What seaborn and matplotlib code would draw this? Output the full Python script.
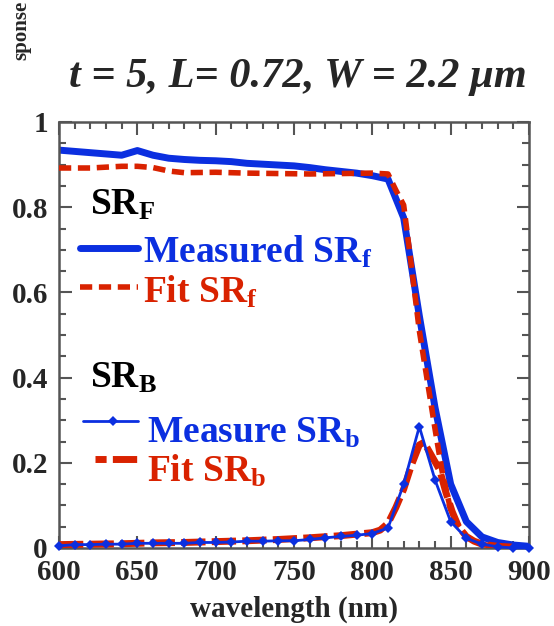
import numpy as np
import pandas as pd
import matplotlib
matplotlib.use("Agg")
import matplotlib.pyplot as plt
from matplotlib.lines import Line2D
from matplotlib.ticker import MultipleLocator, FuncFormatter
import seaborn as sns

# ---- data -------------------------------------------------------------
wl_meas = [600, 610, 620, 630, 640, 650, 660, 670, 680, 690, 700, 710, 720,
           730, 740, 750, 760, 770, 780, 790, 800, 810, 820, 830, 840, 850,
           860, 870, 880, 890, 900]
sr_f_meas = [0.934, 0.931, 0.928, 0.925, 0.922, 0.933, 0.922, 0.915, 0.912,
             0.910, 0.909, 0.907, 0.903, 0.901, 0.899, 0.897, 0.893, 0.888,
             0.884, 0.880, 0.874, 0.866, 0.775, 0.545, 0.330, 0.150, 0.062,
             0.026, 0.013, 0.007, 0.004]
sr_b_meas = [0.005, 0.008, 0.008, 0.009, 0.009, 0.011, 0.011, 0.011, 0.011,
             0.013, 0.013, 0.014, 0.016, 0.016, 0.017, 0.017, 0.020, 0.024,
             0.027, 0.030, 0.034, 0.047, 0.150, 0.285, 0.160, 0.062, 0.023,
             0.009, 0.003, 0.000, 0.000]

wl_fit_f = [600, 620, 640, 650, 660, 670, 680, 700, 720, 740, 760, 780, 800,
            810, 815, 820, 825, 830, 835, 840, 845, 850, 855, 860, 865, 870,
            875, 880, 885]
sr_f_fit = [0.892, 0.892, 0.896, 0.896, 0.893, 0.885, 0.881, 0.882, 0.880,
            0.879, 0.878, 0.879, 0.880, 0.878, 0.840, 0.805, 0.660, 0.510,
            0.395, 0.280, 0.170, 0.090, 0.052, 0.027, 0.016, 0.009, 0.005,
            0.003, 0.002]

wl_fit_b = [600, 620, 640, 660, 680, 700, 720, 740, 760, 780, 800, 805, 810,
            815, 820, 825, 830, 833, 837, 843, 847, 851, 855, 860, 865, 870,
            880, 890]
sr_b_fit = [0.008, 0.009, 0.010, 0.012, 0.013, 0.015, 0.017, 0.020, 0.024,
            0.029, 0.036, 0.042, 0.058, 0.095, 0.138, 0.195, 0.242, 0.248,
            0.222, 0.183, 0.130, 0.085, 0.050, 0.027, 0.016, 0.009, 0.004,
            0.002]

x_ticks = [600, 650, 700, 750, 800, 850, 900]
y_ticks = [0, 0.2, 0.4, 0.6, 0.8, 1.0]

BLUE = "#0b2fe0"
RED = "#d92200"
SERIF = "Liberation Serif"

# ---- figure -----------------------------------------------------------
sns.set_theme(style="ticks")
plt.rcParams["font.family"] = [SERIF, "DejaVu Serif"]
plt.rcParams["font.weight"] = "bold"
plt.rcParams["mathtext.fontset"] = "custom"
plt.rcParams["mathtext.rm"] = SERIF
plt.rcParams["mathtext.bf"] = SERIF + ":bold"
plt.rcParams["mathtext.it"] = SERIF + ":italic"

fig = plt.figure(figsize=(5.54, 6.26), dpi=100)
ax = fig.add_axes([59 / 554, 1 - 548 / 626, 470 / 554, 426 / 626])

meas = pd.DataFrame({"wl": wl_meas, "f": sr_f_meas, "b": sr_b_meas})
fit_f = pd.DataFrame({"wl": wl_fit_f, "f": sr_f_fit})
fit_b = pd.DataFrame({"wl": wl_fit_b, "b": sr_b_fit})

sns.lineplot(data=meas, x="wl", y="f", ax=ax, color=BLUE, lw=5.0,
             solid_joinstyle="round", zorder=2)
sns.lineplot(data=fit_f, x="wl", y="f", ax=ax, color=RED, lw=4.0, zorder=3)
ax.lines[-1].set_dashes([2.2, 1.2])
sns.lineplot(data=fit_b, x="wl", y="b", ax=ax, color=RED, lw=5.0, zorder=4)
ax.lines[-1].set_dashes([3.5, 0.9])
sns.lineplot(data=meas, x="wl", y="b", ax=ax, color=BLUE, lw=2.0,
             marker="D", markersize=5, markeredgewidth=0, zorder=5,
             clip_on=False)

ax.set_xlim(600, 900)
ax.set_ylim(0, 1)
ax.set_xticks(x_ticks)
ax.set_yticks(y_ticks)
ax.xaxis.set_minor_locator(MultipleLocator(10))
ax.yaxis.set_minor_locator(MultipleLocator(0.05))
ax.yaxis.set_major_formatter(FuncFormatter(lambda v, p: f"{v:g}"))
ax.tick_params(which="both", direction="in", top=True, right=True,
               color="#555555", width=1.5, labelsize=21)
ax.tick_params(axis="x", pad=8)
ax.tick_params(axis="y", pad=8)
ax.tick_params(which="major", length=9)
ax.tick_params(which="minor", length=5)
for lab in ax.get_xticklabels() + ax.get_yticklabels():
    lab.set_fontweight("bold")
for sp in ax.spines.values():
    sp.set_color("#555555")
    sp.set_linewidth(1.8)
    sp.set_visible(True)

ax.set_xlabel("wavelength (nm)", fontsize=21, fontweight="bold", labelpad=7)
ax.set_ylabel("")
fig.text(21 / 554, 1 - 30 / 626, "sponse", rotation=90, fontsize=15,
         fontweight="bold", ha="center", va="center")

fig.text(298 / 554, 1 - 77 / 626, "t = 5, L= 0.72, W = 2.2 \u03bcm",
         fontsize=30.5, fontweight="bold", style="italic",
         ha="center", va="center")

# ---- legend block -------------------------------------------------------
def px(x, y):
    return (x - 59) / 470, (548 - y) / 426

tr = ax.transAxes
legend_txt = dict(transform=tr, fontsize=27, fontweight="bold",
                  va="baseline", ha="left")

ax.text(*px(90, 215), r"SR$_\mathbf{F}$", color="black", **legend_txt)
ax.add_line(Line2D(*zip(px(80, 248), px(138, 248)), transform=tr,
                   color=BLUE, lw=5.0))
ax.text(*px(143, 263), r"Measured SR$_\mathbf{f}$", color=BLUE,
        **legend_txt)
l = Line2D(*zip(px(80, 287), px(138, 287)), transform=tr, color=RED, lw=4.0)
l.set_dashes([2.2, 1.2])
ax.add_line(l)
ax.text(*px(143, 303), r"Fit SR$_\mathbf{f}$", color=RED, **legend_txt)

ax.text(*px(90, 388), r"SR$_\mathbf{B}$", color="black", **legend_txt)
ax.add_line(Line2D(*zip(px(83, 421), px(138, 421)), transform=tr,
                   color=BLUE, lw=2.0))
ax.add_line(Line2D(*zip(px(113, 421)), transform=tr, color=BLUE,
                   marker="D", markersize=5, markeredgewidth=0, lw=0))
ax.text(*px(147, 443), r"Measure SR$_\mathbf{b}$", color=BLUE,
        **legend_txt)
l = Line2D(*zip(px(95, 459), px(138, 459)), transform=tr, color=RED, lw=5.0)
l.set_dashes([1.6, 0.9, 3.5, 0.9])
ax.add_line(l)
ax.text(*px(147, 482), r"Fit SR$_\mathbf{b}$", color=RED, **legend_txt)

fig.savefig("out.png", dpi=100)
